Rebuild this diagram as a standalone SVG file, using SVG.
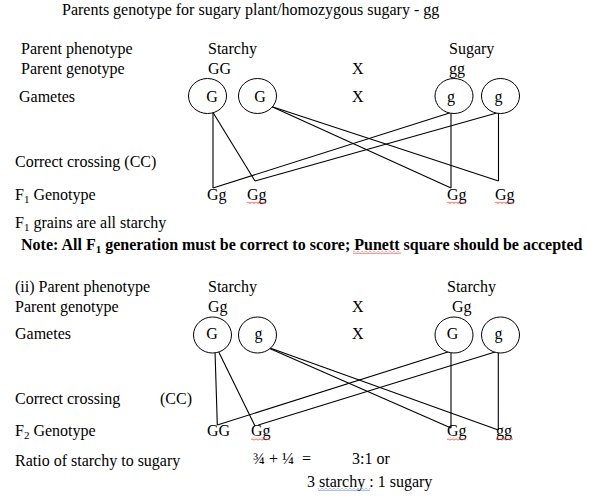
<svg xmlns="http://www.w3.org/2000/svg" width="604" height="499" viewBox="0 0 604 499">
<defs>
<style>
text{font-family:"Liberation Serif","Times New Roman",serif;font-size:16px;fill:#000}
.b{font-weight:bold}
.c{text-anchor:middle}
.sub{font-size:11px}
ellipse{fill:#fff;stroke:#000;stroke-width:1}
#connectors line{stroke:#000;stroke-width:1.1}
</style>
<pattern id="wr" width="4" height="3" patternUnits="userSpaceOnUse"><path d="M0 0.5 L2 2.5 L4 0.5" fill="none" stroke="#e00000" stroke-width="0.8"/></pattern>
<pattern id="wb" width="4" height="3" patternUnits="userSpaceOnUse"><path d="M0 0.5 L2 2.5 L4 0.5" fill="none" stroke="#3050e0" stroke-width="0.8"/></pattern>
</defs>
<rect width="604" height="499" fill="#fff"/>

<text x="62" y="15">Parents genotype for sugary plant/homozygous sugary - gg</text>

<!-- Section 1 labels -->
<text x="21" y="54">Parent phenotype</text>
<text x="21" y="74">Parent genotype</text>
<text x="19" y="102">Gametes</text>
<text x="208" y="54">Starchy</text>
<text x="449" y="54">Sugary</text>
<text x="208" y="74">GG</text>
<text x="352" y="74">X</text>
<text x="449" y="74">gg</text>
<text x="352" y="102">X</text>
<text x="15" y="167">Correct crossing (CC)</text>
<text x="15" y="200">F<tspan class="sub" dy="3">1</tspan><tspan dy="-3"> Genotype</tspan></text>
<text x="15" y="228">F<tspan class="sub" dy="3">1</tspan><tspan dy="-3"> grains are all starchy</tspan></text>
<text x="21" y="249.5" class="b">Note: All F<tspan class="sub" dy="3">1</tspan><tspan dy="-3"> generation must be correct to score; Punett square should be accepted</tspan></text>

<g id="connectors">
<line x1="213" y1="112.5" x2="213" y2="188"/>
<line x1="213" y1="112.5" x2="255" y2="181"/>
<line x1="213" y1="188" x2="451" y2="112.5"/>
<line x1="255" y1="181" x2="498.5" y2="112.5"/>
<line x1="271.5" y1="106.5" x2="451" y2="188"/>
<line x1="271.5" y1="106.5" x2="498.5" y2="181"/>
<line x1="451" y1="112.5" x2="451" y2="188"/>
<line x1="498.5" y1="112.5" x2="498.5" y2="181"/>

<line x1="215" y1="350.5" x2="217.3" y2="425"/>
<line x1="218" y1="350.5" x2="255" y2="426"/>
<line x1="217.3" y1="425" x2="451" y2="351"/>
<line x1="258.3" y1="425" x2="498.3" y2="351"/>
<line x1="261.7" y1="345" x2="451" y2="428"/>
<line x1="261.7" y1="345" x2="498.3" y2="430"/>
<line x1="451" y1="351" x2="451" y2="428"/>
<line x1="498.3" y1="351" x2="498.3" y2="430"/>
</g>

<!-- Section 1 gamete nodes -->
<g id="gamete1-G1"><ellipse cx="207.5" cy="96" rx="19" ry="17.5"/><text x="212" y="102" class="c">G</text></g>
<g id="gamete1-G2"><ellipse cx="257.5" cy="96" rx="19" ry="17.5"/><text x="260" y="102" class="c">G</text></g>
<g id="gamete1-g1"><ellipse cx="454" cy="96" rx="19" ry="17.5"/><text x="451" y="102" class="c">g</text></g>
<g id="gamete1-g2"><ellipse cx="500.5" cy="96" rx="19" ry="17.5"/><text x="498.5" y="102" class="c">g</text></g>

<!-- F1 offspring nodes -->
<g id="f1-1"><text x="207" y="200">Gg</text></g>
<g id="f1-2"><text x="247" y="200">Gg</text><rect x="247" y="201.5" width="19" height="3" fill="url(#wr)"/></g>
<g id="f1-3"><text x="447" y="200">Gg</text><rect x="447" y="201.5" width="19" height="3" fill="url(#wr)"/></g>
<g id="f1-4"><text x="495" y="200">Gg</text><rect x="495" y="201.5" width="19" height="3" fill="url(#wr)"/></g>
<rect x="353" y="251" width="48" height="3" fill="url(#wr)"/>

<!-- Section 2 labels -->
<text x="15" y="292">(ii) Parent phenotype</text>
<text x="15" y="312">Parent genotype</text>
<text x="15" y="339">Gametes</text>
<text x="208" y="292">Starchy</text>
<text x="447" y="292">Starchy</text>
<text x="208" y="312">Gg</text>
<text x="352" y="312">X</text>
<text x="452" y="312">Gg</text>
<text x="352" y="339">X</text>
<text x="15" y="404">Correct crossing</text>
<text x="160" y="404">(CC)</text>
<text x="15" y="436">F<tspan class="sub" dy="3">2</tspan><tspan dy="-3"> Genotype</tspan></text>
<text x="15" y="466">Ratio of starchy to sugary</text>
<text x="253" y="464">¾ + ¼</text>
<text x="302" y="464">=</text>
<text x="352" y="464">3:1 or</text>
<text x="307" y="487">3 starchy : 1 sugary</text>
<rect x="318" y="488" width="52" height="3" fill="url(#wb)"/>

<!-- Section 2 gamete nodes -->
<g id="gamete2-G1"><ellipse cx="212.5" cy="335" rx="19" ry="18"/><text x="212" y="339" class="c">G</text></g>
<g id="gamete2-g1"><ellipse cx="257.5" cy="335" rx="19" ry="18"/><text x="258.5" y="339" class="c">g</text></g>
<g id="gamete2-G2"><ellipse cx="454" cy="335" rx="19" ry="18"/><text x="452.5" y="339" class="c">G</text></g>
<g id="gamete2-g2"><ellipse cx="500.5" cy="335" rx="19" ry="18"/><text x="498.5" y="339" class="c">g</text></g>

<!-- F2 offspring nodes -->
<g id="f2-1"><text x="207" y="436">GG</text></g>
<g id="f2-2"><text x="251" y="436">Gg</text><rect x="251" y="437.5" width="19" height="3" fill="url(#wr)"/></g>
<g id="f2-3"><text x="447" y="436">Gg</text><rect x="447" y="437.5" width="19" height="3" fill="url(#wr)"/></g>
<g id="f2-4"><text x="496" y="436">gg</text><rect x="496" y="437.5" width="17" height="3" fill="url(#wr)"/></g>
</svg>
